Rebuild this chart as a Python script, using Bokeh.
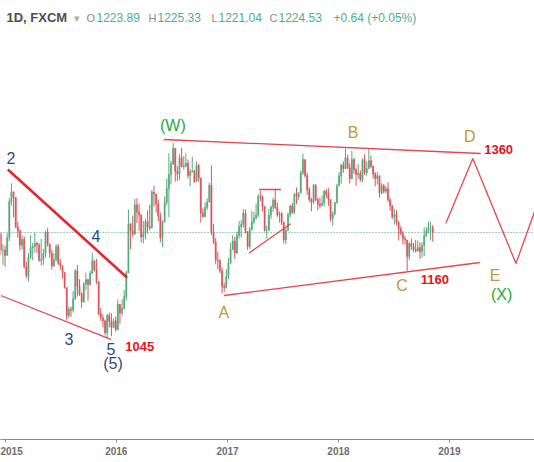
import numpy as np
import pandas as pd
from bokeh.plotting import figure
from bokeh.models import Range1d, Label, Span, ColumnDataSource, YearsTicker, DatetimeTickFormatter
from bokeh.core.properties import value
from bokeh.embed import file_html
from bokeh.resources import INLINE

# ---------------- weekly XAU/USD values ----------------
first_open = 1222.0
week_start = "2014-12-17"

close_2014 = [1195, 1195]
high_2014 = [1225, 1205]
low_2014 = [1187, 1170]

close_2015 = [1186, 1216, 1277, 1293, 1283, 1234, 1227, 1203, 1213, 1167, 1152, 1183, 1199,
              1201, 1206, 1203, 1178, 1179, 1189, 1225, 1205, 1190, 1168, 1179, 1201, 1173,
              1168, 1157, 1132, 1085, 1095, 1094, 1113, 1160, 1134, 1121, 1108, 1138, 1145,
              1137, 1156, 1177, 1162, 1142, 1088, 1081, 1076, 1056, 1085, 1075, 1065, 1076]
high_2015 = [1202, 1223, 1282, 1307, 1290, 1284, 1243, 1230, 1220, 1218, 1175, 1190, 1220,
             1207, 1224, 1209, 1207, 1214, 1197, 1228, 1232, 1206, 1196, 1190, 1205, 1205,
             1180, 1170, 1158, 1120, 1100, 1100, 1126, 1163, 1170, 1146, 1124, 1141, 1157,
             1147, 1160, 1191, 1178, 1180, 1142, 1098, 1087, 1078, 1088, 1090, 1089, 1080]
low_2015 = [1167, 1188, 1210, 1270, 1250, 1232, 1216, 1194, 1196, 1164, 1147, 1142, 1180,
            1178, 1191, 1190, 1175, 1169, 1170, 1183, 1201, 1182, 1162, 1170, 1176, 1170,
            1162, 1147, 1130, 1077, 1080, 1083, 1090, 1111, 1117, 1118, 1098, 1106, 1128,
            1110, 1135, 1155, 1159, 1138, 1085, 1076, 1065, 1052, 1046, 1065, 1050, 1064]

close_2016 = [1061, 1104, 1089, 1097, 1117, 1157, 1239, 1227, 1222, 1271, 1259, 1254, 1217,
              1222, 1243, 1234, 1232, 1292, 1289, 1273, 1252, 1216, 1243, 1275, 1298, 1322,
              1340, 1366, 1327, 1323, 1350, 1335, 1336, 1341, 1320, 1327, 1328, 1310, 1337,
              1316, 1257, 1251, 1267, 1276, 1304, 1225, 1208, 1178, 1177, 1160, 1134, 1132, 1151]
high_2016 = [1083, 1112, 1104, 1112, 1128, 1160, 1263, 1240, 1253, 1281, 1282, 1273, 1255,
             1244, 1248, 1262, 1271, 1296, 1303, 1289, 1280, 1258, 1245, 1285, 1315, 1358,
             1345, 1375, 1366, 1336, 1356, 1367, 1353, 1358, 1347, 1331, 1352, 1330, 1344,
             1340, 1317, 1265, 1275, 1282, 1308, 1337, 1239, 1215, 1192, 1180, 1165, 1140, 1163]
low_2016 = [1058, 1062, 1071, 1084, 1095, 1110, 1156, 1196, 1217, 1220, 1240, 1227, 1208,
            1206, 1213, 1223, 1228, 1234, 1268, 1258, 1243, 1208, 1200, 1241, 1270, 1250,
            1305, 1338, 1310, 1311, 1313, 1334, 1330, 1334, 1315, 1302, 1325, 1308, 1311,
            1310, 1241, 1250, 1250, 1262, 1275, 1220, 1205, 1171, 1163, 1156, 1122, 1124, 1130]

close_2017 = [1173, 1196, 1210, 1190, 1220, 1234, 1238, 1257, 1226, 1201, 1229, 1243, 1249,
              1254, 1285, 1284, 1268, 1228, 1228, 1254, 1267, 1279, 1266, 1254, 1256, 1242,
              1212, 1228, 1254, 1269, 1258, 1289, 1285, 1291, 1325, 1347, 1320, 1297, 1280,
              1275, 1304, 1280, 1272, 1270, 1274, 1294, 1288, 1280, 1248, 1256, 1275, 1303]
high_2017 = [1182, 1207, 1220, 1217, 1226, 1244, 1245, 1264, 1263, 1227, 1234, 1261, 1259,
             1273, 1289, 1295, 1287, 1268, 1236, 1264, 1270, 1283, 1296, 1275, 1260, 1259,
             1242, 1230, 1258, 1271, 1274, 1291, 1300, 1292, 1329, 1357, 1339, 1325, 1300,
             1283, 1306, 1306, 1283, 1283, 1287, 1296, 1298, 1299, 1279, 1260, 1276, 1306]
low_2017 = [1146, 1172, 1195, 1180, 1188, 1214, 1216, 1233, 1223, 1195, 1197, 1228, 1238,
            1246, 1250, 1277, 1260, 1226, 1214, 1228, 1247, 1259, 1264, 1251, 1241, 1237,
            1206, 1205, 1228, 1249, 1256, 1256, 1272, 1279, 1291, 1321, 1317, 1288, 1276,
            1260, 1272, 1277, 1262, 1265, 1268, 1269, 1282, 1269, 1243, 1236, 1253, 1273]

close_2018 = [1320, 1338, 1332, 1350, 1333, 1315, 1347, 1330, 1322, 1324, 1313, 1347, 1325,
              1332, 1345, 1336, 1323, 1315, 1320, 1291, 1303, 1294, 1298, 1279, 1270, 1251,
              1255, 1241, 1231, 1223, 1214, 1212, 1184, 1206, 1201, 1196, 1194, 1199, 1192,
              1203, 1219, 1227, 1233, 1233, 1224.53]
high_2018 = [1326, 1340, 1344, 1366, 1355, 1341, 1362, 1350, 1333, 1340, 1329, 1349, 1356,
             1344, 1365, 1354, 1337, 1326, 1326, 1320, 1308, 1306, 1303, 1309, 1283, 1270,
             1264, 1262, 1244, 1235, 1227, 1219, 1212, 1208, 1214, 1207, 1212, 1211, 1208,
             1208, 1233, 1233, 1243, 1243, 1237]
low_2018 = [1302, 1307, 1325, 1331, 1331, 1307, 1314, 1323, 1303, 1315, 1310, 1309, 1321,
            1320, 1331, 1333, 1315, 1302, 1305, 1283, 1288, 1290, 1290, 1276, 1261, 1247,
            1238, 1236, 1211, 1220, 1204, 1205, 1160, 1178, 1195, 1191, 1191, 1192, 1180,
            1182, 1185, 1217, 1223, 1211, 1209]

# ---------------- Elliott-wave drawing points (date, price) ----------------
thick_line_dates = ["2015-01-09", "2016-02-05"]
thick_line_prices = [1330.4, 1148.9]
base_line_dates = ["2014-12-17", "2015-12-14"]
base_line_prices = [1118.6, 1044.7]
top_line_dates = ["2016-06-06", "2019-04-14"]
top_line_prices = [1380.8, 1357.3]
bottom_line_dates = ["2016-12-20", "2019-04-11"]
bottom_line_prices = [1118.6, 1174.1]
flat_line_dates = ["2017-04-15", "2017-06-26"]
flat_line_prices = [1296.8, 1296.8]
rise_line_dates = ["2017-03-12", "2017-07-28"]
rise_line_prices = [1189.7, 1239.1]
path_dates = ["2018-12-20", "2019-03-19", "2019-08-08", "2019-11-14"]
path_prices = [1239.6, 1348.9, 1172.4, 1311.9]

wave_texts = ["2", "3", "4", "5", "(5)", "(W)", "A", "B", "C", "D", "E", "(X)"]
wave_dates = ["2015-01-19", "2015-07-29", "2015-10-26", "2015-12-14", "2015-12-21", "2016-07-05",
              "2016-12-20", "2018-02-18", "2018-07-29", "2019-03-09", "2019-05-31", "2019-06-22"]
wave_prices = [1350.5, 1044.7, 1217.8, 1027.9, 1004.3, 1404.3,
               1090.0, 1392.6, 1135.4, 1385.8, 1152.2, 1120.3]
wave_colors = ["#2c4a86"] * 5 + ["#27a83a"] + ["#c8952f"] * 5 + ["#27a83a"]

target_texts = ["1045", "1360", "1160"]
target_dates = ["2016-03-18", "2019-06-12", "2018-11-14"]
target_prices = [1032.9, 1364.0, 1145.5]

header_parts = ["1D, FXCM", "\u25be", "O", "1223.89", "H", "1225.33", "L", "1221.04",
                "C", "1224.53", "+0.64 (+0.05%)"]

# ---------------- build candles ----------------
close = np.array(close_2014 + close_2015 + close_2016 + close_2017 + close_2018, dtype=float)
high = np.array(high_2014 + high_2015 + high_2016 + high_2017 + high_2018, dtype=float)
low = np.array(low_2014 + low_2015 + low_2016 + low_2017 + low_2018, dtype=float)
opn = np.concatenate([[first_open], close[:-1]])
high = np.maximum(high, np.maximum(opn, close))
low = np.minimum(low, np.minimum(opn, close))
dates = pd.date_range(week_start, periods=len(close), freq="7D")

UP, DOWN = "#5aa87c", "#d9575f"
colors = [UP if c >= o else DOWN for o, c in zip(opn, close)]
src = ColumnDataSource(dict(x=dates, o=opn, c=close, h=high, l=low,
                            top=np.maximum(opn, close), bot=np.minimum(opn, close), col=colors))

FH = 439
p = figure(frame_width=534, frame_height=FH, output_backend="svg", toolbar_location=None,
           x_axis_type="datetime", y_axis_location=None, min_border=0,
           x_range=Range1d(pd.Timestamp("2014-12-16"), pd.Timestamp("2019-10-08")),
           y_range=Range1d(876.6, 1614.4))
p.outline_line_color = None
p.xgrid.visible = False
p.ygrid.visible = False
p.background_fill_color = "white"
p.border_fill_color = "white"

p.add_layout(Span(location=float(close[-1]), dimension="width", line_color="#3f9f85",
                  line_dash="1 2", line_width=1, level="underlay"))

day = 86400000
p.segment(x0="x", y0="h", x1="x", y1="l", color="col", line_width=1, source=src)
p.vbar(x="x", top="top", bottom="bot", width=4 * day, fill_color="col", line_color="col",
       line_width=0.5, source=src)

p.line(pd.to_datetime(thick_line_dates), thick_line_prices, line_color="#e6262e", line_width=2.6)
for d, pr in [(base_line_dates, base_line_prices), (top_line_dates, top_line_prices),
              (bottom_line_dates, bottom_line_prices), (flat_line_dates, flat_line_prices),
              (rise_line_dates, rise_line_prices), (path_dates, path_prices)]:
    p.line(pd.to_datetime(d), pr, line_color="#e5464f", line_width=1.3)

wsrc = ColumnDataSource(dict(x=pd.to_datetime(wave_dates), y=wave_prices, t=wave_texts, c=wave_colors))
p.text(x="x", y="y", text="t", text_color="c", source=wsrc, text_align="center",
       text_baseline="middle", text_font=value("Liberation Sans"), text_font_size="16px")
tsrc = ColumnDataSource(dict(x=pd.to_datetime(target_dates), y=target_prices, t=target_texts))
p.text(x="x", y="y", text="t", text_color="#e3141c", source=tsrc, text_align="center",
       text_baseline="middle", text_font=value("Liberation Sans"), text_font_size="13px",
       text_font_style="bold")

# header (screen units, frame-relative)
hx = [6, 73, 86, 96, 148, 157, 211, 218, 269, 278, 333]
hsize = ["13px", "11px", "11px", "12px", "11px", "12px", "11px", "12px", "11px", "12px", "12px"]
hcol = ["#4d4d4d", "#aaaaaa", "#8a8a8a", "#4fae8a", "#8a8a8a", "#4fae8a", "#8a8a8a", "#4fae8a",
        "#8a8a8a", "#4fae8a", "#4fae8a"]
for i, (txt, x, c, s) in enumerate(zip(header_parts, hx, hcol, hsize)):
    p.add_layout(Label(x=x, y=FH - 17, x_units="screen", y_units="screen", text=txt,
                       text_color=c, text_baseline="middle", text_font_size=s,
                       text_font_style="bold" if i == 0 else "normal",
                       text_font="Liberation Sans"))

ax = p.xaxis[0]
ax.ticker = YearsTicker(desired_num_ticks=6)
ax.formatter = DatetimeTickFormatter(years="%Y", months="%Y", days="%Y")
ax.axis_line_color = "#8c8c8c"
ax.major_tick_line_color = "#8c8c8c"
ax.minor_tick_line_color = None
ax.major_tick_in = 0
ax.major_tick_out = 3
ax.major_label_standoff = 4
ax.major_label_text_font = "Liberation Sans"
ax.major_label_text_font_size = "10px"
ax.major_label_text_font_style = "bold"
ax.major_label_text_color = "#6e6e6e"

open("out.html", "w").write(file_html(p, INLINE))
